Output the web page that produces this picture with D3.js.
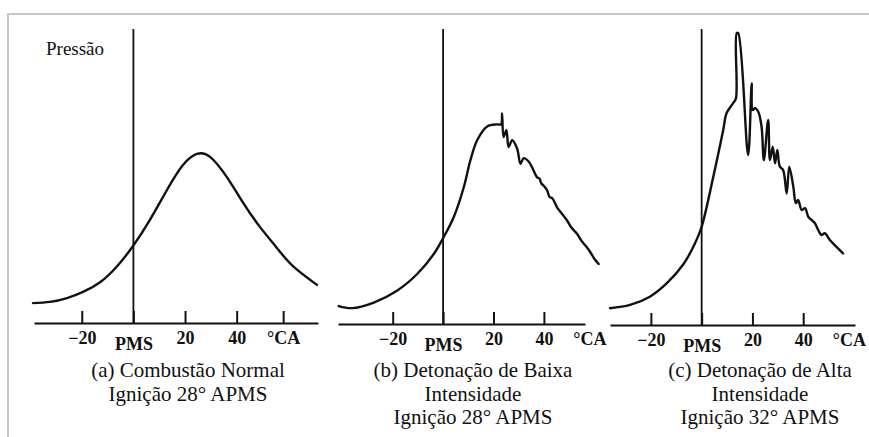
<!DOCTYPE html>
<html>
<head>
<meta charset="utf-8">
<script src="https://cdn.jsdelivr.net/npm/d3@7"></script>
<style>
  body { margin: 0; background: #fff; }
  svg { display: block; }
</style>
</head>
<body>
<svg id="chart" width="869" height="437"></svg>
<script>
const serif = '"Liberation Serif", "DejaVu Serif", serif';

// crank angle (°CA, 0 = PMS) and relative pressure
const angleA = [-38.9, -32.3, -25.7, -19.5, -12.9, -6.4, -0.2, 6.4, 13.0, 19.2, 24.6, 29.7, 36.2, 42.4, 49.0, 55.6, 61.8, 71.1];
const pressureA = [6.8, 7.2, 8.5, 10.6, 13.9, 19.3, 26.2, 35.2, 45.4, 53.9, 57.7, 56.7, 49.8, 41.2, 32.8, 25.6, 19.4, 13.0];

const angleB = [-41.4, -36.1, -27.5, -18.3, -10.3, -3.7, 0, 4.2, 8.2, 10.8, 13.5, 17.5, 21.4, 23.0, 23.4, 24.0,
  25.1, 26.0, 27.4, 29.4, 30.7, 32.0, 34.0, 35.3, 37.3, 38.2, 39.0, 40.2, 41.3, 42.2, 43.4, 45.2, 46.5, 47.7,
  49.2, 50.9, 53.2, 54.9, 57.1, 58.8, 60.0, 61.7];
const pressureB = [6.1, 5.4, 7.3, 11.3, 17.0, 23.8, 29.2, 36.3, 46.5, 55.6, 62.5, 67.2, 67.9, 67.9, 71.6, 63.6,
  65.9, 60.2, 62.5, 59.6, 54.5, 56.4, 55.2, 53.3, 49.9, 49.5, 47.8, 46.8, 45.4, 43.3, 42.7, 39.7, 38.2, 36.9,
  35.2, 32.8, 30.6, 28.3, 26.0, 23.9, 22.2, 20.4];

const angleC = [-36.1, -28.2, -20.4, -13.8, -7.2, -2.6, 0, 4.6, 8.5, 9.8, 12.4, 13.5, 13.8, 14.4, 18.3, 19.7,
  20.1, 21.0, 22.3, 23.6, 24.5, 26.2, 26.9, 28.0, 28.9, 29.8, 30.8, 32.1, 33.5, 34.5, 36.1, 37.1, 38.0, 39.4,
  40.7, 42.0, 43.3, 44.6, 45.9, 47.2, 48.5, 50.5, 53.1, 55.7];
const pressureC = [5.7, 6.8, 9.6, 14.1, 20.6, 27.7, 33.3, 50.3, 66.1, 71.8, 75.2, 76.8, 98.9, 98.9, 57.6, 81.9,
  72.9, 73.5, 72.3, 67.2, 55.9, 69.5, 55.9, 60.4, 54.8, 59.3, 53.7, 52.5, 44.6, 53.7, 46.9, 41.3, 42.4, 39.0,
  39.6, 36.7, 35.6, 34.5, 32.2, 30.5, 31.1, 28.8, 26.5, 24.3];

const tickValues = [-20, 0, 20, 40, 58];
const tickLabels = ["\u221220", "PMS", "20", "40", "\u00b0CA"];

const captionA = ["(a) Combustão Normal", "Ignição 28° APMS"];
const captionB = ["(b) Detonação de Baixa", "Intensidade", "Ignição 28° APMS"];
const captionC = ["(c) Detonação de Alta", "Intensidade", "Ignição 32° APMS"];

const svg = d3.select("#chart");

// light frame of the original figure
svg.append("path")
  .attr("d", "M8,437V14H869")
  .attr("fill", "none")
  .attr("stroke", "#c8c8c8")
  .attr("stroke-width", 2);

const panels = [
  { angle: angleA, pressure: pressureA, caption: captionA, domain: [-38.5, 71.5], range: [34, 318], base: 323, lastTick: true, cx: 188, curve: d3.curveNatural },
  { angle: angleB, pressure: pressureB, caption: captionB, domain: [-41.7, 56.3], range: [338, 585], base: 324, lastTick: false, cx: 473, curve: d3.curveCatmullRom.alpha(0.5) },
  { angle: angleC, pressure: pressureC, caption: captionC, domain: [-36.1, 60.4], range: [610, 855], base: 325, lastTick: false, cx: 760, curve: d3.curveCatmullRom.alpha(0.5) }
];

panels.forEach(p => {
  const x = d3.scaleLinear().domain(p.domain).range(p.range);
  const y = d3.scaleLinear().domain([0, 100]).range([p.base, 30]);
  const g = svg.append("g");

  // PMS vertical line
  g.append("line")
    .attr("x1", x(0)).attr("x2", x(0))
    .attr("y1", y(100) - 1).attr("y2", y(0))
    .attr("stroke", "#111")
    .attr("stroke-width", 1.8);

  const axis = d3.axisBottom(x)
    .tickValues(tickValues)
    .tickFormat((d, i) => tickLabels[i])
    .tickSizeInner(-12)
    .tickSizeOuter(0)
    .tickPadding(8);

  const ax = g.append("g")
    .attr("transform", `translate(0,${p.base})`)
    .call(axis);

  ax.select(".domain").attr("stroke", "#111").attr("stroke-width", 2.2);
  ax.selectAll(".tick line").attr("stroke", "#111").attr("stroke-width", 2);
  ax.selectAll(".tick text")
    .attr("fill", "#111")
    .style("font-family", serif)
    .style("font-weight", "bold")
    .style("font-size", "18px")
    .attr("dy", (d, i) => i === 1 ? "1.05em" : "0.72em");
  if (!p.lastTick) ax.selectAll(".tick").filter((d, i) => i === 4).select("line").remove();

  const line = d3.line()
    .x((d, i) => x(p.angle[i]))
    .y(d => y(d))
    .curve(p.curve);

  g.append("path")
    .datum(p.pressure)
    .attr("d", line)
    .attr("fill", "none")
    .attr("stroke", "#111")
    .attr("stroke-width", 2.4)
    .attr("stroke-linejoin", "round")
    .attr("stroke-linecap", "round");

  g.selectAll("text.caption")
    .data(p.caption)
    .join("text")
    .attr("class", "caption")
    .attr("x", p.cx)
    .attr("y", (d, i) => 377 + i * 23.5)
    .attr("text-anchor", "middle")
    .attr("fill", "#111")
    .style("font-family", serif)
    .style("font-weight", "normal")
    .style("font-size", "21px")
    .text(d => d);
});

svg.append("text")
  .attr("x", 46)
  .attr("y", 55)
  .attr("fill", "#111")
  .style("font-family", serif)
  .style("font-weight", "normal")
  .style("font-size", "19px")
  .text("Pressão");
</script>
</body>
</html>
